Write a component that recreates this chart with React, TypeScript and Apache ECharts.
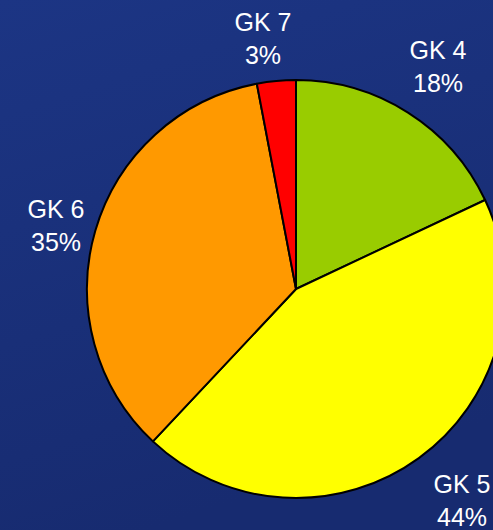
import React, { useEffect, useRef } from "react";
import * as echarts from "echarts";

const categories = ["GK 4", "GK 5", "GK 6", "GK 7"];
const shares = [18, 44, 35, 3];
const sliceColors = ["#99CC00", "#FFFF00", "#FF9900", "#FF0000"];
const labelPositions: [number, number][] = [
  [438, 66],
  [462, 500],
  [56, 225],
  [263, 38],
];

export default function App() {
  const ref = useRef<HTMLDivElement>(null);
  useEffect(() => {
    if (!ref.current) return;
    const chart = echarts.init(ref.current, undefined, { renderer: "svg" });
    chart.setOption({
      animation: false,
      backgroundColor: {
        type: "linear",
        x: 0,
        y: 0,
        x2: 0.3,
        y2: 1,
        colorStops: [
          { offset: 0, color: "#1c3584" },
          { offset: 1, color: "#172b70" },
        ],
      },
      series: [
        {
          type: "pie",
          center: [296, 289],
          radius: 209,
          startAngle: 90,
          clockwise: true,
          data: categories.map((c, i) => ({
            name: c,
            value: shares[i],
            itemStyle: { color: sliceColors[i] },
          })),
          itemStyle: { borderColor: "#000000", borderWidth: 2 },
          emphasis: { disabled: true },
          labelLine: { show: false },
          label: {
            show: true,
            position: "inside",
            overflow: "none",
            formatter: (p: any) => `${p.name}\n${p.value}%`,
            color: "#ffffff",
            fontFamily: "Liberation Sans, Arial, sans-serif",
            fontSize: 25,
            lineHeight: 33,
            align: "center",
          },
          labelLayout: (params: any) => {
            const pos = labelPositions[params.dataIndex];
            return {
              x: pos[0],
              y: pos[1],
              align: "center",
              verticalAlign: "middle",
              hideOverlap: false,
            };
          },
        },
      ],
    });
    return () => chart.dispose();
  }, []);
  return (
    <div
      ref={ref}
      style={{ position: "absolute", left: 0, top: 0, width: 493, height: 530 }}
    />
  );
}
